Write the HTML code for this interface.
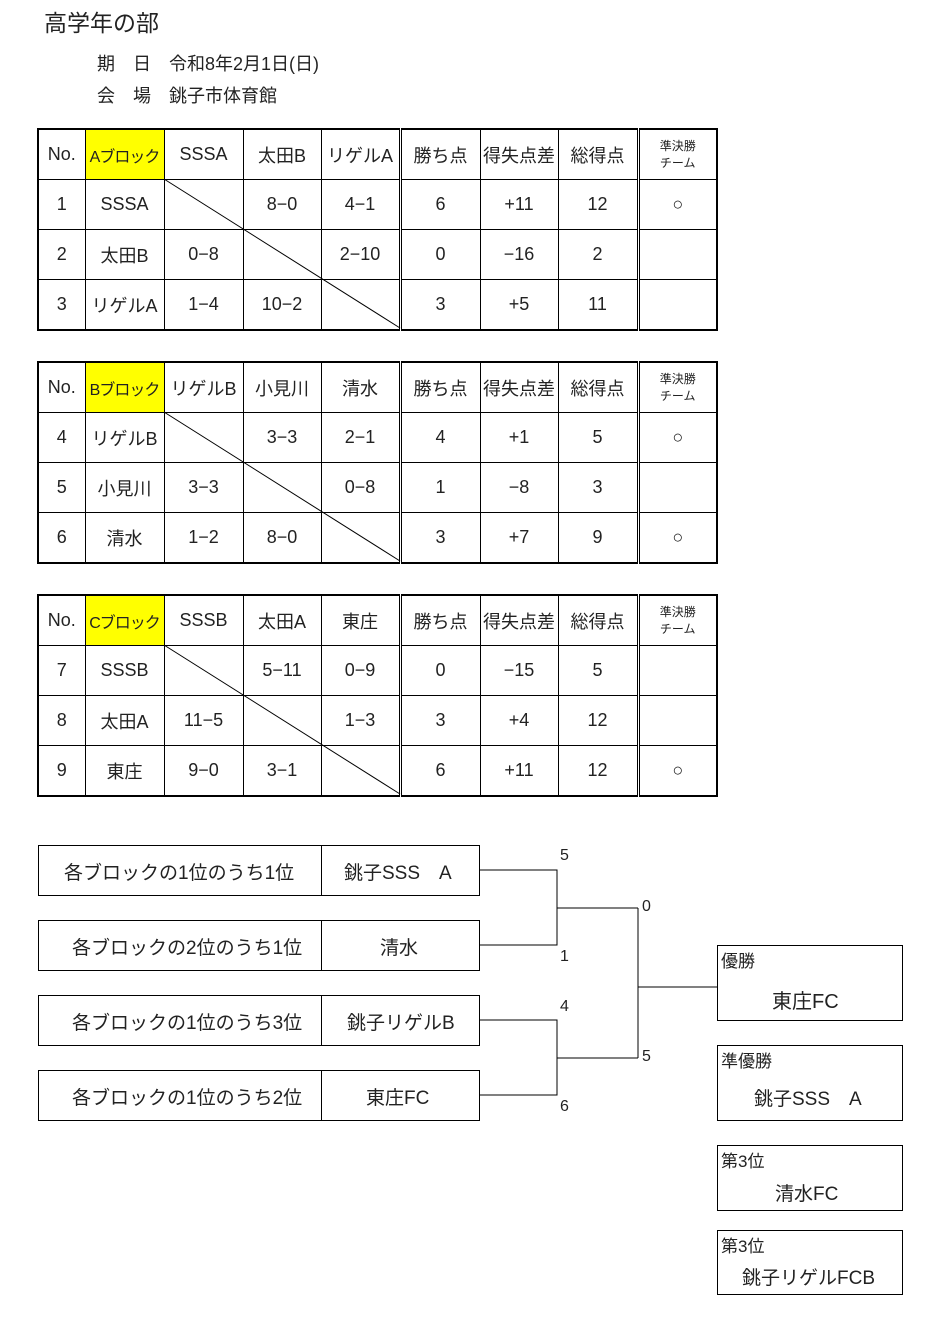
<!DOCTYPE html>
<html><head><meta charset="utf-8"><style>
body{margin:0;width:932px;height:1324px;background:#fff;position:relative;font-family:"Liberation Sans","Noto Sans CJK JP",sans-serif;color:#222;overflow:hidden}
.a{position:absolute;white-space:nowrap}
table{position:absolute;left:37px;border-collapse:collapse;border:2px solid #000;table-layout:fixed}
td{border:1px solid #000;height:49px;text-align:center;font-size:18px;padding:0;white-space:nowrap;overflow:hidden}
td.y{background:#ffff00;font-size:16px;letter-spacing:-1px}
td.d{border-left:3px double #000}
td.s{font-size:12px;line-height:17px}
.box{position:absolute;border:1px solid #000;box-sizing:border-box;font-size:19px}
.v{position:absolute;width:0;border-left:1px solid #000}
</style></head><body>
<div class="a" style="left:44px;top:4px;font-size:23px">高学年の部</div>
<div class="a" style="left:97px;top:50px;font-size:18px">期　日　令和8年2月1日(日)</div>
<div class="a" style="left:97px;top:82px;font-size:18px">会　場　銚子市体育館</div>

<table style="top:128px"><colgroup><col style="width:47px"><col style="width:79px"><col style="width:79px"><col style="width:78px"><col style="width:79px"><col style="width:80px"><col style="width:78px"><col style="width:80px"><col style="width:79px"></colgroup>
<tr><td>No.</td><td class="y">Aブロック</td><td>SSSA</td><td>太田B</td><td>リゲルA</td><td class="d">勝ち点</td><td>得失点差</td><td>総得点</td><td class="d s">準決勝<br>チーム</td></tr>
<tr><td>1</td><td>SSSA</td><td></td><td>8−0</td><td>4−1</td><td class="d">6</td><td>+11</td><td>12</td><td class="d">○</td></tr>
<tr><td>2</td><td>太田B</td><td>0−8</td><td></td><td>2−10</td><td class="d">0</td><td>−16</td><td>2</td><td class="d"></td></tr>
<tr><td>3</td><td>リゲルA</td><td>1−4</td><td>10−2</td><td></td><td class="d">3</td><td>+5</td><td>11</td><td class="d"></td></tr></table>

<table style="top:361px"><colgroup><col style="width:47px"><col style="width:79px"><col style="width:79px"><col style="width:78px"><col style="width:79px"><col style="width:80px"><col style="width:78px"><col style="width:80px"><col style="width:79px"></colgroup>
<tr><td>No.</td><td class="y">Bブロック</td><td>リゲルB</td><td>小見川</td><td>清水</td><td class="d">勝ち点</td><td>得失点差</td><td>総得点</td><td class="d s">準決勝<br>チーム</td></tr>
<tr><td>4</td><td>リゲルB</td><td></td><td>3−3</td><td>2−1</td><td class="d">4</td><td>+1</td><td>5</td><td class="d">○</td></tr>
<tr><td>5</td><td>小見川</td><td>3−3</td><td></td><td>0−8</td><td class="d">1</td><td>−8</td><td>3</td><td class="d"></td></tr>
<tr><td>6</td><td>清水</td><td>1−2</td><td>8−0</td><td></td><td class="d">3</td><td>+7</td><td>9</td><td class="d">○</td></tr></table>

<table style="top:594px"><colgroup><col style="width:47px"><col style="width:79px"><col style="width:79px"><col style="width:78px"><col style="width:79px"><col style="width:80px"><col style="width:78px"><col style="width:80px"><col style="width:79px"></colgroup>
<tr><td>No.</td><td class="y">Cブロック</td><td>SSSB</td><td>太田A</td><td>東庄</td><td class="d">勝ち点</td><td>得失点差</td><td>総得点</td><td class="d s">準決勝<br>チーム</td></tr>
<tr><td>7</td><td>SSSB</td><td></td><td>5−11</td><td>0−9</td><td class="d">0</td><td>−15</td><td>5</td><td class="d"></td></tr>
<tr><td>8</td><td>太田A</td><td>11−5</td><td></td><td>1−3</td><td class="d">3</td><td>+4</td><td>12</td><td class="d"></td></tr>
<tr><td>9</td><td>東庄</td><td>9−0</td><td>3−1</td><td></td><td class="d">6</td><td>+11</td><td>12</td><td class="d">○</td></tr></table>

<svg class="a" style="left:0;top:0" width="932" height="1324">
<g stroke="#000" stroke-width="1" fill="none">
<line x1="164" y1="179" x2="400" y2="328"/>
<line x1="164" y1="412" x2="400" y2="561"/>
<line x1="164" y1="645" x2="400" y2="794"/>
<polyline points="479,870 557,870 557,945 479,945"/>
<polyline points="479,1020 557,1020 557,1095 479,1095"/>
<line x1="557" y1="908" x2="638" y2="908"/>
<line x1="557" y1="1058" x2="638" y2="1058"/>
<line x1="638" y1="908" x2="638" y2="1058"/>
<line x1="638" y1="987" x2="717" y2="987"/>
</g></svg>

<div class="box" style="left:38px;top:845px;width:442px;height:51px"></div>
<div class="box" style="left:38px;top:920px;width:442px;height:51px"></div>
<div class="box" style="left:38px;top:995px;width:442px;height:51px"></div>
<div class="box" style="left:38px;top:1070px;width:442px;height:51px"></div>
<div class="v" style="left:321px;top:845px;height:51px"></div>
<div class="v" style="left:321px;top:920px;height:51px"></div>
<div class="v" style="left:321px;top:995px;height:51px"></div>
<div class="v" style="left:321px;top:1070px;height:51px"></div>
<div class="a" style="left:64px;top:858px;font-size:19px">各ブロックの1位のうち1位</div>
<div class="a" style="left:344px;top:858px;font-size:19px">銚子SSS　A</div>
<div class="a" style="left:72px;top:933px;font-size:19px">各ブロックの2位のうち1位</div>
<div class="a" style="left:380px;top:933px;font-size:19px">清水</div>
<div class="a" style="left:72px;top:1008px;font-size:19px">各ブロックの1位のうち3位</div>
<div class="a" style="left:347px;top:1008px;font-size:19px">銚子リゲルB</div>
<div class="a" style="left:72px;top:1083px;font-size:19px">各ブロックの1位のうち2位</div>
<div class="a" style="left:366px;top:1083px;font-size:19px">東庄FC</div>

<div class="a" style="left:560px;top:847px;font-size:16px">5</div>
<div class="a" style="left:560px;top:948px;font-size:16px">1</div>
<div class="a" style="left:642px;top:898px;font-size:16px">0</div>
<div class="a" style="left:560px;top:998px;font-size:16px">4</div>
<div class="a" style="left:642px;top:1048px;font-size:16px">5</div>
<div class="a" style="left:560px;top:1098px;font-size:16px">6</div>

<div class="box" style="left:717px;top:945px;width:186px;height:76px"></div>
<div class="a" style="left:721px;top:947px;font-size:17px">優勝</div>
<div class="a" style="left:772px;top:985px;font-size:20px">東庄FC</div>
<div class="box" style="left:717px;top:1045px;width:186px;height:76px"></div>
<div class="a" style="left:721px;top:1047px;font-size:17px">準優勝</div>
<div class="a" style="left:754px;top:1084px;font-size:19px">銚子SSS　A</div>
<div class="box" style="left:717px;top:1145px;width:186px;height:66px"></div>
<div class="a" style="left:721px;top:1147px;font-size:17px">第3位</div>
<div class="a" style="left:775px;top:1179px;font-size:19px">清水FC</div>
<div class="box" style="left:717px;top:1230px;width:186px;height:65px"></div>
<div class="a" style="left:721px;top:1232px;font-size:17px">第3位</div>
<div class="a" style="left:742px;top:1263px;font-size:19px">銚子リゲルFCB</div>
</body></html>
